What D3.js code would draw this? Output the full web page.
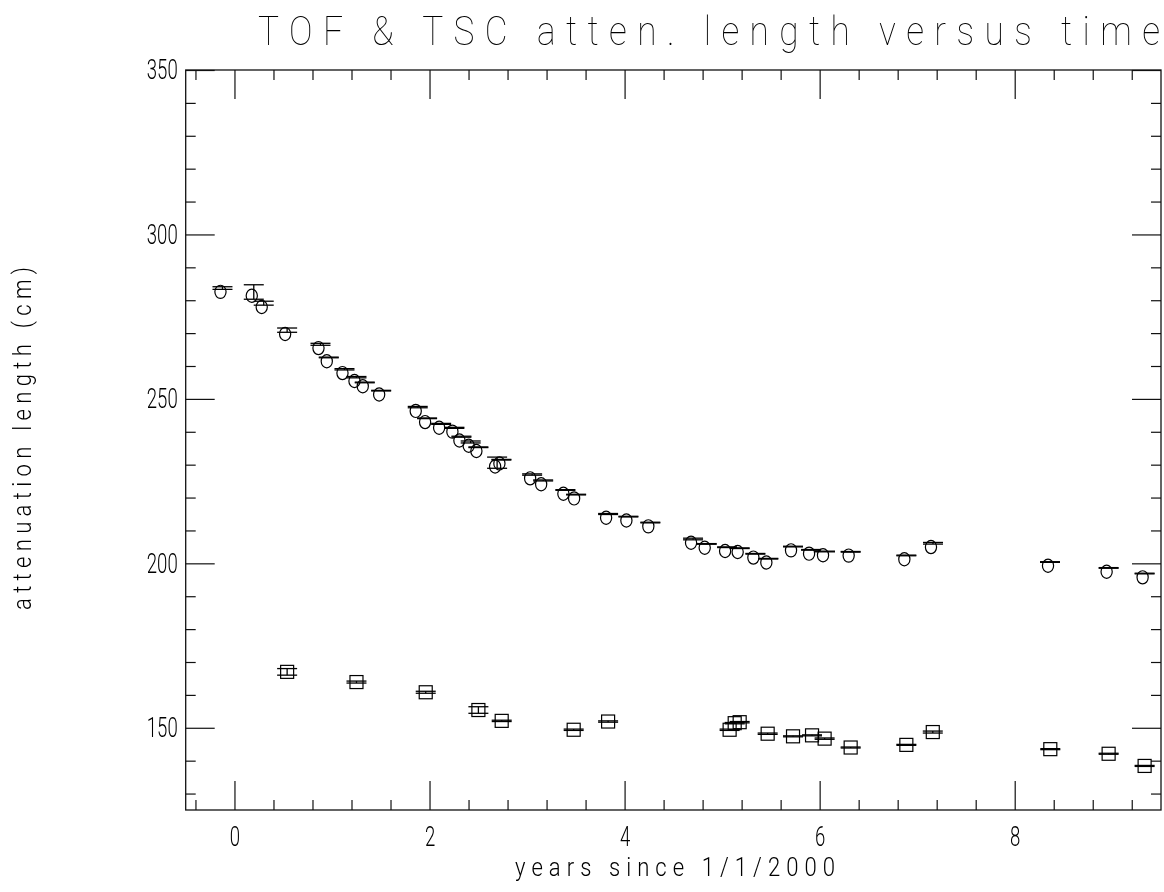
<!DOCTYPE html>
<html>
<head>
<meta charset="utf-8">
<script src="https://cdn.jsdelivr.net/npm/d3@7"></script>
<style>
  html, body { margin: 0; padding: 0; background: #fff; }
  svg { display: block; filter: grayscale(1); }
  .lbl { font-family: Roboto, "DejaVu Sans", sans-serif; font-weight: 300; fill: #000; }
  .thin { font-weight: 100; }
</style>
</head>
<body>
<svg id="chart" width="1164" height="892"></svg>
<script>
// TOF counters (circles): time in years since 1/1/2000, attenuation length in cm, error
const tofYears = [-0.123, 0.198, 0.300, 0.540, 0.882, 0.967, 1.128, 1.251, 1.336, 1.504,
                  1.879, 1.975, 2.119, 2.255, 2.327, 2.422, 2.501, 2.693, 2.737, 3.052,
                  3.165, 3.393, 3.503, 3.831, 4.039, 4.264, 4.702, 4.842, 5.051, 5.180,
                  5.341, 5.474, 5.727, 5.912, 6.055, 6.318, 6.889, 7.162, 8.362, 8.963, 9.332];
const tofAtten = [283.7, 282.5, 279.1, 270.9, 266.6, 262.6, 259.0, 256.6, 255.0, 252.5,
                  247.5, 244.1, 242.4, 241.2, 238.5, 236.9, 235.3, 230.6, 231.5, 227.0,
                  225.2, 222.3, 220.9, 215.0, 214.2, 212.4, 207.4, 205.9, 204.9, 204.6,
                  202.9, 201.4, 205.1, 204.1, 203.6, 203.5, 202.4, 206.1, 200.4, 198.6, 196.9];
const tofErr   = [0.4, 2.2, 0.6, 0.65, 0.3, 0.1, 0.2, 0.2, 0.1, 0.1,
                  0.2, 0.1, 0.15, 0.15, 0.15, 0.3, 0.1, 1.7, 0.1, 0.2,
                  0.15, 0.1, 0.1, 0.15, 0.1, 0.1, 0.25, 0.1, 0.1, 0.1,
                  0.1, 0.1, 0.1, 0.1, 0.1, 0.1, 0.1, 0.25, 0.1, 0.1, 0.1];

// TSC counters (squares)
const tscYears = [0.540, 1.251, 1.961, 2.501, 2.740, 3.478, 3.831, 5.077, 5.129, 5.180,
                  5.467, 5.727, 5.922, 6.051, 6.318, 6.889, 7.160, 8.365, 8.963, 9.332];
const tscAtten = [167.0, 163.9, 160.8, 155.4, 152.1, 149.4, 151.9, 149.4, 151.4, 151.7,
                  148.2, 147.4, 147.7, 146.7, 144.0, 144.8, 148.7, 143.5, 142.1, 138.4];
const tscErr   = [1.0, 0.3, 0.3, 1.0, 0.2, 0.2, 0.2, 0.2, 0.2, 0.2,
                  0.2, 0.15, 0.15, 0.2, 0.15, 0.15, 0.3, 0.15, 0.15, 0.15];

// Axis ticks
const xMajorTicks = [0, 2, 4, 6, 8];
const xMinorTicks = [-0.4, 0.4, 0.8, 1.2, 1.6, 2.4, 2.8, 3.2, 3.6, 4.4, 4.8, 5.2, 5.6,
                     6.4, 6.8, 7.2, 7.6, 8.4, 8.8, 9.2];
const yMajorTicks = [150, 200, 250, 300, 350];
const yMinorTicks = [130, 140, 160, 170, 180, 190, 210, 220, 230, 240, 260, 270, 280, 290,
                     310, 320, 330, 340];

const titleText = "TOF & TSC atten. length versus time";
const xLabelText = "years since 1/1/2000";
const yLabelText = "attenuation length (cm)";

const frame = { left: 185.7, right: 1161, top: 70, bottom: 810 };
const svg = d3.select("#chart");

const x = d3.scaleLinear().domain([-0.5, 9.5]).range([frame.left, frame.right]);
const y = d3.scaleLinear().domain([125, 350]).range([frame.bottom, frame.top]);

const MAJOR = 29, MINOR = 10;
const DIGIT_W = 10.3; // narrow tick-label digits

function styleAxis(g) {
  g.select(".domain").remove();
  g.selectAll(".tick line").attr("stroke", "#111").attr("stroke-width", 1.2);
}
function styleLabels(g) {
  g.selectAll("text")
    .attr("class", "lbl").attr("font-size", 28).attr("fill", "#000")
    .attr("lengthAdjust", "spacingAndGlyphs")
    .attr("textLength", function () { return this.textContent.length * DIGIT_W; });
}

// bottom axis: ticks point inward (up), labels below
svg.append("g")
  .attr("transform", `translate(0,${frame.bottom})`)
  .call(d3.axisBottom(x).tickValues(xMajorTicks).tickSizeInner(-MAJOR).tickSizeOuter(0)
        .tickPadding(16).tickFormat(d3.format("d")))
  .call(styleAxis)
  .call(styleLabels);
svg.append("g")
  .attr("transform", `translate(0,${frame.bottom})`)
  .call(d3.axisBottom(x).tickValues(xMinorTicks).tickSizeInner(-MINOR).tickSizeOuter(0).tickFormat(""))
  .call(styleAxis);

// top axis: ticks point down into the plot
svg.append("g")
  .attr("transform", `translate(0,${frame.top})`)
  .call(d3.axisTop(x).tickValues(xMajorTicks).tickSizeInner(-MAJOR).tickSizeOuter(0).tickFormat(""))
  .call(styleAxis);
svg.append("g")
  .attr("transform", `translate(0,${frame.top})`)
  .call(d3.axisTop(x).tickValues(xMinorTicks).tickSizeInner(-MINOR).tickSizeOuter(0).tickFormat(""))
  .call(styleAxis);

// left axis with labels
svg.append("g")
  .attr("transform", `translate(${frame.left},0)`)
  .call(d3.axisLeft(y).tickValues(yMajorTicks).tickSizeInner(-MAJOR).tickSizeOuter(0)
        .tickPadding(8).tickFormat(d3.format("d")))
  .call(styleAxis)
  .call(styleLabels);
svg.append("g")
  .attr("transform", `translate(${frame.left},0)`)
  .call(d3.axisLeft(y).tickValues(yMinorTicks).tickSizeInner(-MINOR).tickSizeOuter(0).tickFormat(""))
  .call(styleAxis);

// right axis
svg.append("g")
  .attr("transform", `translate(${frame.right},0)`)
  .call(d3.axisRight(y).tickValues(yMajorTicks).tickSizeInner(-MAJOR).tickSizeOuter(0).tickFormat(""))
  .call(styleAxis);
svg.append("g")
  .attr("transform", `translate(${frame.right},0)`)
  .call(d3.axisRight(y).tickValues(yMinorTicks).tickSizeInner(-MINOR).tickSizeOuter(0).tickFormat(""))
  .call(styleAxis);

// frame
svg.append("rect")
  .attr("x", frame.left).attr("y", frame.top)
  .attr("width", frame.right - frame.left).attr("height", frame.bottom - frame.top)
  .attr("fill", "none").attr("stroke", "#111").attr("stroke-width", 1.3);

// error bars: vertical line with wide caps at both ends
const CAP = 10;
function errorBars(years, vals, errs) {
  const g = svg.append("g").attr("stroke", "#000").attr("stroke-width", 1.3).attr("fill", "none");
  years.forEach((yr, i) => {
    const cx = x(yr), top = y(vals[i] + errs[i]), bot = y(vals[i] - errs[i]);
    g.append("line").attr("x1", cx).attr("x2", cx).attr("y1", top).attr("y2", bot);
    g.append("line").attr("x1", cx - CAP).attr("x2", cx + CAP).attr("y1", top).attr("y2", top);
    g.append("line").attr("x1", cx - CAP).attr("x2", cx + CAP).attr("y1", bot).attr("y2", bot);
  });
}
errorBars(tofYears, tofAtten, tofErr);
errorBars(tscYears, tscAtten, tscErr);

// TOF markers: open ellipses, drawn slightly below-left of the bar centre
svg.append("g").selectAll("ellipse")
  .data(tofYears.map((yr, i) => [yr, tofAtten[i]]))
  .join("ellipse")
  .attr("cx", d => x(d[0]) - 2)
  .attr("cy", d => y(d[1]) + 3.8)
  .attr("rx", 5.6).attr("ry", 6.6)
  .attr("fill", "none").attr("stroke", "#000").attr("stroke-width", 1.2);

// TSC markers: open squares
const SQ = 13;
svg.append("g").selectAll("rect")
  .data(tscYears.map((yr, i) => [yr, tscAtten[i]]))
  .join("rect")
  .attr("x", d => x(d[0]) - SQ / 2)
  .attr("y", d => y(d[1]) - SQ / 2)
  .attr("width", SQ).attr("height", SQ)
  .attr("fill", "none").attr("stroke", "#000").attr("stroke-width", 1.2);

// titles: narrow glyphs with generous spacing
const TITLE_SX = 0.86, LABEL_SX = 0.85;
svg.append("text").attr("class", "lbl thin")
  .attr("transform", `translate(258,45) scale(${TITLE_SX},1)`)
  .attr("font-size", 41)
  .attr("textLength", 902 / TITLE_SX).attr("lengthAdjust", "spacing")
  .text(titleText);

svg.append("text").attr("class", "lbl")
  .attr("transform", `translate(515,876) scale(${LABEL_SX},1)`)
  .attr("font-size", 26)
  .attr("textLength", 320 / LABEL_SX).attr("lengthAdjust", "spacing")
  .text(xLabelText);

svg.append("text").attr("class", "lbl")
  .attr("transform", `translate(31,610) rotate(-90) scale(${LABEL_SX},1)`)
  .attr("font-size", 26)
  .attr("textLength", 343 / LABEL_SX).attr("lengthAdjust", "spacing")
  .text(yLabelText);
</script>
</body>
</html>
